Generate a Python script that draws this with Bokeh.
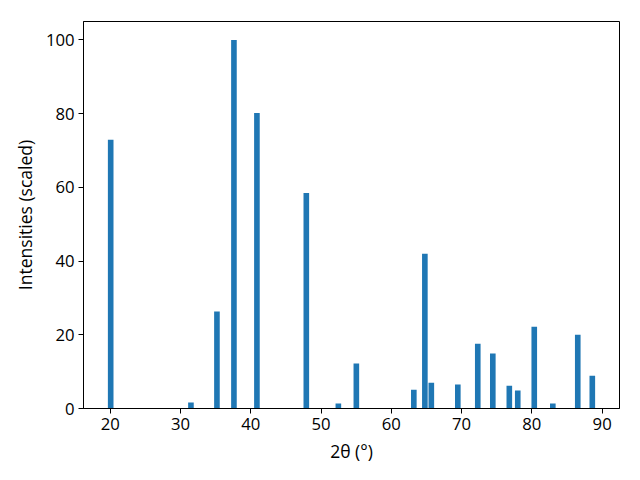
from bokeh.plotting import figure
from bokeh.models import Range1d, FixedTicker, ColumnDataSource
from bokeh.embed import file_html
from bokeh.resources import INLINE

two_theta = [20.06, 31.48, 35.18, 37.6, 40.87, 47.9, 52.46, 55.02, 63.2, 64.77,
             65.69, 69.46, 72.3, 74.44, 76.79, 77.99, 80.34, 82.98, 86.53, 88.6]
intensity = [72.9, 1.6, 26.3, 100.0, 80.2, 58.5, 1.35, 12.2, 5.1, 42.0,
             7.0, 6.5, 17.6, 14.9, 6.2, 4.9, 22.2, 1.35, 20.0, 8.9]
bar_width = 0.8
x_ticks = [20, 30, 40, 50, 60, 70, 80, 90]
y_ticks = [0, 20, 40, 60, 80, 100]

src = ColumnDataSource(dict(x=two_theta, top=intensity))

p = figure(width=640, height=480, output_backend="svg", toolbar_location=None,
           x_range=Range1d(16.19, 92.47), y_range=Range1d(0, 105),
           min_border_left=83, min_border_right=21, min_border_top=21, min_border_bottom=72)

p.vbar(x="x", top="top", width=bar_width, bottom=0, source=src,
       fill_color="#1f77b4", line_color=None)

p.grid.visible = False
p.outline_line_color = "black"
p.outline_line_width = 1
p.outline_line_alpha = 1

for ax in (p.xaxis[0], p.yaxis[0]):
    ax.major_label_text_font = "Open Sans"
    ax.major_label_text_font_size = "16.7px"
    ax.major_label_text_color = "black"
    ax.axis_label_text_font = "Open Sans"
    ax.axis_label_text_font_size = "17.5px"
    ax.axis_label_text_font_style = "normal"
    ax.axis_label_text_color = "black"
    ax.axis_line_color = "black"
    ax.major_tick_line_color = "black"
    ax.major_tick_out = 5
    ax.major_tick_in = 0
    ax.minor_tick_line_color = None
    ax.major_label_standoff = 4
    ax.axis_label_standoff = 6

p.xaxis[0].ticker = FixedTicker(ticks=x_ticks)
p.yaxis[0].ticker = FixedTicker(ticks=y_ticks)
p.xaxis[0].axis_label = "2θ (°)"
p.yaxis[0].axis_label = "Intensities (scaled)"

open("out.html", "w").write(file_html(p, INLINE))
